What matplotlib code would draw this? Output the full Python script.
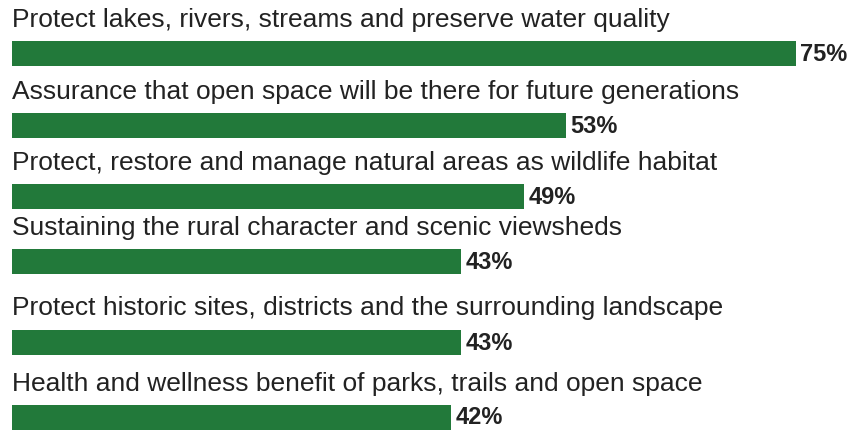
import matplotlib.pyplot as plt

# survey priorities, top to bottom
priorities = [
    'Protect lakes, rivers, streams and preserve water quality',
    'Assurance that open space will be there for future generations',
    'Protect, restore and manage natural areas as wildlife habitat',
    'Sustaining the rural character and scenic viewsheds',
    'Protect historic sites, districts and the surrounding landscape',
    'Health and wellness benefit of parks, trails and open space',
]
percent = [75, 53, 49, 43, 43, 42]

bar_color = '#22793a'
text_color = '#222222'

W, H = 856, 430
fig = plt.figure(figsize=(W / 100, H / 100), dpi=100)
ax = fig.add_axes([0, 0, 1, 1])

# one percent point is ~10.45 px, bars start at x=12 px
px_per_pct = 10.45
ax.set_xlim(-12 / px_per_pct, (W - 12) / px_per_pct)
ax.set_ylim(H, 0)

# row centres in pixels (rows are not evenly spaced in the original)
row_y = [53.5, 125.5, 196.5, 261.5, 342, 417]
bar_h = 25

ax.barh(row_y, percent, height=bar_h, color=bar_color, left=0)

for y, label, v in zip(row_y, priorities, percent):
    ax.text(0, y - bar_h / 2 - 14, label, fontsize=19, color=text_color,
            va='baseline', ha='left', family='Liberation Sans')
    ax.text(v + 0.45, y + 1, f'{v}%', fontsize=17, fontweight='bold', color=text_color,
            va='center', ha='left', family='Liberation Sans')

ax.axis('off')
fig.savefig('out.png', dpi=100)
